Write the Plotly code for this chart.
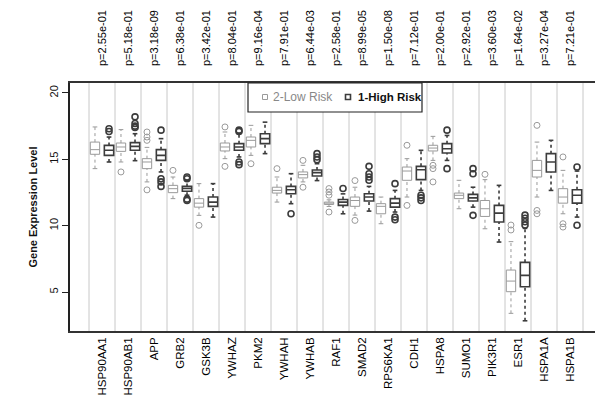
import plotly.graph_objects as go

genes = ["HSP90AA1", "HSP90AB1", "APP", "GRB2", "GSK3B", "YWHAZ", "PKM2", "YWHAH",
         "YWHAB", "RAF1", "SMAD2", "RPS6KA1", "CDH1", "HSPA8", "SUMO1", "PIK3R1",
         "ESR1", "HSPA1A", "HSPA1B"]
pvals = ["p=2.55e-01", "p=5.18e-01", "p=3.18e-09", "p=6.38e-01", "p=3.42e-01", "p=8.04e-01",
         "p=9.16e-04", "p=7.91e-01", "p=6.44e-03", "p=2.58e-01", "p=8.99e-05", "p=1.50e-08",
         "p=7.12e-01", "p=2.00e-01", "p=2.92e-01", "p=3.60e-03", "p=1.64e-02", "p=3.27e-04",
         "p=7.21e-01"]

# 2-Low Risk
low_lo  = [14.3, 14.8, 13.3, 12.04, 10.78, 15.05, 15.3, 11.78, 13.3, 11.45, 10.8, 10.15, 12.16, 14.92, 11.28, 9.77, 3.4, 12.16, 10.9]
low_q1  = [15.38, 15.6, 14.3, 12.49, 11.4, 15.63, 15.93, 12.46, 13.6, 11.6, 11.46, 10.9, 13.42, 15.63, 12.04, 10.7, 5.03, 13.67, 11.7]
low_med = [15.73, 15.93, 14.8, 12.79, 11.7, 15.93, 16.43, 12.66, 13.85, 11.7, 11.9, 11.46, 14.12, 15.85, 12.29, 11.28, 5.83, 14.17, 12.16]
low_q3  = [16.3, 16.23, 15.05, 13.04, 12.04, 16.23, 16.68, 12.9, 14.05, 11.78, 12.16, 11.66, 14.42, 16.06, 12.46, 11.9, 6.66, 14.92, 12.79]
low_hi  = [17.44, 17.24, 15.9, 13.67, 13.17, 17.06, 17.56, 13.67, 14.55, 11.95, 12.9, 12.16, 15.05, 16.73, 13.42, 13.47, 8.8, 16.3, 14.17]
low_out = [[], [14.05], [17.06, 16.68, 16.43, 12.7], [14.17], [10.03], [17.44, 14.47], [14.67],
           [14.3], [14.92, 12.9], [12.8, 12.54, 12.3, 11.03], [13.4, 10.4], [], [16.06, 11.53],
           [14.55, 14.3, 13.3], [], [13.87], [10.05, 9.68], [17.56, 11.15, 10.9], [15.18, 10.15, 9.9]]

# 1-High Risk
high_lo  = [14.8, 14.9, 14.05, 12.3, 10.65, 15.18, 15.43, 11.66, 13.4, 10.9, 11.1, 11.03, 12.66, 14.92, 11.4, 8.77, 2.84, 12.66, 10.65]
high_q1  = [15.3, 15.68, 14.92, 12.6, 11.46, 15.68, 16.18, 12.41, 13.74, 11.53, 11.86, 11.4, 13.47, 15.48, 11.86, 10.28, 5.4, 14.05, 11.7]
high_med = [15.68, 15.98, 15.3, 12.8, 11.78, 15.93, 16.56, 12.71, 14.0, 11.78, 12.16, 11.7, 14.22, 15.8, 12.1, 10.95, 6.26, 14.8, 12.29]
high_q3  = [16.05, 16.26, 15.73, 12.96, 12.16, 16.18, 16.93, 12.96, 14.2, 11.98, 12.41, 12.04, 14.47, 16.18, 12.36, 11.53, 7.24, 15.43, 12.71]
high_hi  = [16.68, 16.93, 16.56, 13.4, 13.17, 16.93, 17.8, 13.92, 14.67, 12.4, 12.96, 12.66, 15.68, 16.8, 12.9, 13.04, 9.8, 16.43, 14.12]
high_out = [[17.3, 17.1], [18.2, 17.7, 17.5, 17.4], [17.2, 13.54, 13.3, 12.96], [13.67, 13.54, 12.0, 11.9], [],
            [17.2, 17.1, 14.8, 14.6], [], [10.9], [15.43, 15.18, 14.97], [12.8], [14.47, 13.92, 13.67, 13.42],
            [13.17, 10.65, 10.45], [12.29, 12.1, 11.9], [17.2, 14.3], [14.3, 13.92, 10.78], [],
            [10.8, 10.56, 10.3, 10.05], [], [14.42, 10.03]]

LOW_C = "#9a9a9a"
HIGH_C = "#3c3c3c"
OFF = 0.27
BOXW = 0.36
CAP = 0.09

fig = go.Figure()


def add_group(sign, lo, q1, med, q3, hi, outs, color, lw):
    xs = [i + sign * OFF for i in range(len(genes))]
    wx, wy, cx, cy = [], [], [], []
    for x, a, b, c, d in zip(xs, lo, q1, q3, hi):
        wx += [x, x, None, x, x, None]
        wy += [a, b, None, c, d, None]
        cx += [x - CAP, x + CAP, None, x - CAP, x + CAP, None]
        cy += [a, a, None, d, d, None]
    fig.add_trace(go.Scatter(x=wx, y=wy, mode="lines", showlegend=False, hoverinfo="skip",
                             line=dict(color=color, width=lw, dash="dot")))
    fig.add_trace(go.Scatter(x=cx, y=cy, mode="lines", showlegend=False, hoverinfo="skip",
                             line=dict(color=color, width=lw)))
    fig.add_trace(go.Box(x=xs, q1=q1, median=med, q3=q3, lowerfence=q1, upperfence=q3,
                         width=BOXW, fillcolor="white", line=dict(color=color, width=lw),
                         showlegend=False, boxpoints=False, whiskerwidth=0))
    ox, oy = [], []
    for x, o in zip(xs, outs):
        for v in o:
            ox.append(x)
            oy.append(v)
    fig.add_trace(go.Scatter(x=ox, y=oy, mode="markers", showlegend=False,
                             marker=dict(symbol="circle-open", size=6, color=color,
                                         line=dict(width=lw))))


add_group(-1, low_lo, low_q1, low_med, low_q3, low_hi, low_out, LOW_C, 1)
add_group(1, high_lo, high_q1, high_med, high_q3, high_hi, high_out, HIGH_C, 1.6)

# page body has an 8px margin; screen-pixel geometry of the plot area
OFFSET = 8
FIG_W, FIG_H = 603 - OFFSET, 408 - OFFSET
L, R, T, B = 70, 603, 83, 331
PW, PH = R - L, B - T


def px(x):
    return (x - L) / PW


def py(y):
    return (B - y) / PH


shapes = []
for k in range(len(genes) + 1):
    shapes.append(dict(type="line", xref="x", yref="paper", x0=k - 0.5, x1=k - 0.5, y0=0, y1=1,
                       line=dict(color="#c8c8c8", width=1), layer="below"))
shapes.append(dict(type="rect", xref="paper", yref="paper", x0=px(248), x1=px(422), y0=py(112), y1=1,
                   line=dict(color="#222", width=1.2), fillcolor="white", layer="above"))
shapes.append(dict(type="rect", xref="paper", yref="paper", x0=px(262.5), x1=px(267.5), y0=py(99.5), y1=py(94.5),
                   line=dict(color=LOW_C, width=1), fillcolor="white", layer="above"))
shapes.append(dict(type="rect", xref="paper", yref="paper", x0=px(345.5), x1=px(350.5), y0=py(99.5), y1=py(94.5),
                   line=dict(color=HIGH_C, width=1.6), fillcolor="white", layer="above"))

annotations = []
for i, p in enumerate(pvals):
    annotations.append(dict(x=i, y=py(68), xref="x", yref="paper", text=p, textangle=-90,
                            showarrow=False, xanchor="center", yanchor="bottom",
                            font=dict(size=11, color="#000", family="Liberation Sans, Arial")))
annotations.append(dict(x=px(271), y=py(97), xref="paper", yref="paper", text="2-Low Risk",
                        showarrow=False, xanchor="left", yanchor="middle",
                        font=dict(size=12, color="#888", family="Liberation Sans, Arial")))
annotations.append(dict(x=px(356), y=py(97), xref="paper", yref="paper", text="<b>1-High Risk</b>",
                        showarrow=False, xanchor="left", yanchor="middle",
                        font=dict(size=11.5, color="#111", family="Liberation Sans, Arial")))

fig.update_layout(
    width=FIG_W, height=FIG_H,
    margin=dict(l=L - OFFSET, r=0, t=T - OFFSET, b=FIG_H - (B - OFFSET), autoexpand=False),
    paper_bgcolor="white", plot_bgcolor="white",
    boxmode="overlay",
    showlegend=False,
    shapes=shapes,
    annotations=annotations,
    font=dict(family="Liberation Sans, Arial", color="#111"),
    xaxis=dict(range=[(L - 102) / 26, (R - 102) / 26], tickvals=list(range(len(genes))),
               ticktext=genes, tickangle=-90, ticks="", showgrid=False, zeroline=False,
               showline=True, mirror=True, linecolor="#333", linewidth=1.5, automargin=False,
               tickfont=dict(size=11.5, color="#000")),
    yaxis=dict(range=[2.07, 20.75], tickvals=[5, 10, 15, 20], tickangle=-90,
               ticks="outside", ticklen=6, tickcolor="#222", showgrid=False, zeroline=False,
               showline=True, linecolor="#222", linewidth=1.5, automargin=False,
               tickfont=dict(size=11, color="#111"),
               title=dict(text="<b>Gene Expression Level</b>", font=dict(size=11, color="#111"),
                          standoff=8)),
)

fig.write_html("out.html")
